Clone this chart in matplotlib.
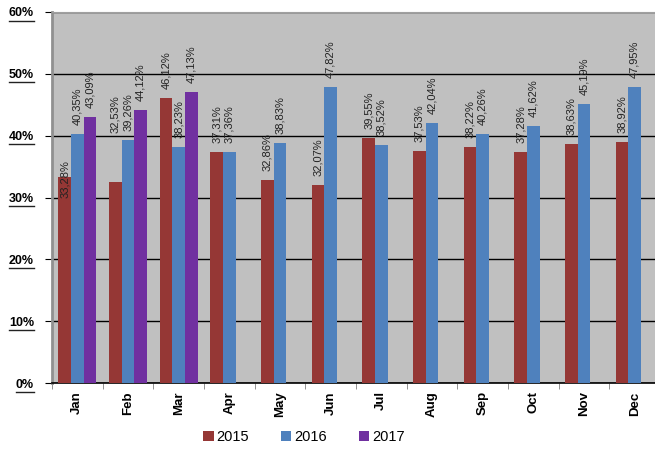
import numpy as np
import matplotlib.pyplot as plt
from matplotlib.patches import Patch
from matplotlib.lines import Line2D

months = ['Jan', 'Feb', 'Mar', 'Apr', 'May', 'Jun',
          'Jul', 'Aug', 'Sep', 'Oct', 'Nov', 'Dec']
years = ['2015', '2016', '2017']
v2015 = [33.28, 32.53, 46.12, 37.31, 32.86, 32.07, 39.55, 37.53, 38.22, 37.28, 38.63, 38.92]
v2016 = [40.35, 39.26, 38.23, 37.36, 38.83, 47.82, 38.52, 42.04, 40.26, 41.62, 45.19, 47.95]
v2017 = [43.09, 44.12, 47.13]

colors = ['#953735', '#4f81bd', '#7030a0']

plt.rcParams['font.family'] = ['Liberation Sans', 'DejaVu Sans']

fig = plt.figure(figsize=(6.55, 4.49), dpi=100)
ax = fig.add_axes([52 / 655, 66 / 449, 608 / 655, 371 / 449])
ax.set_facecolor('#c0c0c0')

x = np.arange(len(months))
w = 0.25
series = [v2015, v2016, v2017]
# label offsets in pixels above the bar top (excel moved a couple of them)
special = {(0, 0): -21, (0, 1): 49}

for i, vals in enumerate(series):
    xs = x[:len(vals)] + (i - 1) * w
    ax.bar(xs, vals, width=w, color=colors[i], zorder=3, linewidth=0)
    for j, v in enumerate(vals):
        off = special.get((i, j), 9)
        ax.annotate(f"{v:.2f}%".replace('.', ','), (xs[j], v),
                    xytext=(0, off), textcoords='offset pixels',
                    rotation=90, ha='center', va='bottom',
                    fontsize=8, color='#222222', zorder=4)

ax.set_xlim(-0.5, 11.5)
ax.set_ylim(0, 60)
ax.set_yticks(range(0, 61, 10))
ax.set_yticklabels([f"{t}%" for t in range(0, 61, 10)], fontweight='bold', fontsize=9)
ax.yaxis.grid(True, color='black', linewidth=1, zorder=1)
ax.set_axisbelow(True)

ax.set_xticks(x)
ax.set_xticklabels(months, rotation=90, fontweight='bold', fontsize=9.5)
ax.set_xticks(np.arange(-0.5, 12, 1), minor=True)
ax.tick_params(axis='x', which='major', length=0, pad=6)
ax.tick_params(axis='x', which='minor', length=4, color='#808080', direction='out')
ax.tick_params(axis='y', length=5, color='black', pad=8)

ax.spines['left'].set_color('#909090')
ax.spines['left'].set_linewidth(2)
ax.spines['top'].set_color('#a0a0a0')
ax.spines['right'].set_visible(False)
ax.spines['bottom'].set_color('black')
ax.spines['bottom'].set_linewidth(1.2)

handles = [Patch(facecolor=c, edgecolor='none') for c in colors]
fig.legend(handles, years, loc='center', bbox_to_anchor=(304 / 655, 1 - 437 / 449),
           ncol=3, frameon=False, fontsize=10.5, handlelength=0.7, handleheight=0.7,
           handletextpad=0.2, columnspacing=2.2)

# underline the y tick labels like the original
fig.canvas.draw()
r = fig.canvas.get_renderer()
for lab in ax.get_yticklabels():
    bb = lab.get_window_extent(r)
    y0 = bb.y0 - 1
    fig.add_artist(Line2D([bb.x0 / 655, bb.x1 / 655], [y0 / 449, y0 / 449],
                          color='#222222', linewidth=1))

fig.savefig('out.png', dpi=100)
